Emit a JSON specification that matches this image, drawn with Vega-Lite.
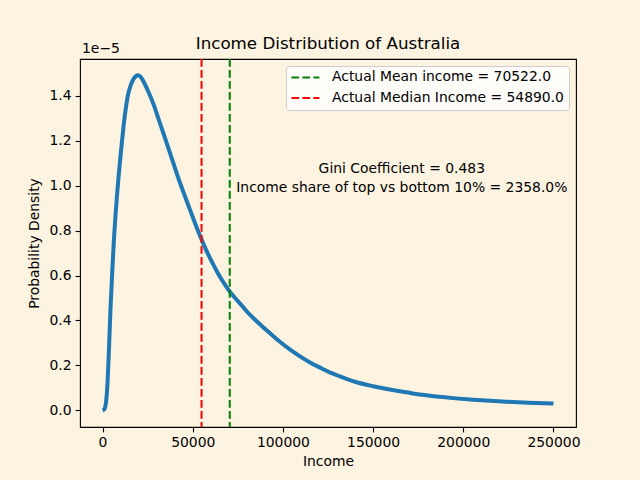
{
  "$schema": "https://vega.github.io/schema/vega-lite/v6.json",
  "width": 496,
  "height": 368,
  "autosize": {"type": "none"},
  "padding": {"left": 80, "top": 59, "right": 64, "bottom": 53},
  "background": "#fdf3e1",
  "title": {
    "text": "Income Distribution of Australia",
    "fontSize": 16.7,
    "fontWeight": "normal",
    "color": "#000000",
    "font": "DejaVu Sans",
    "anchor": "middle",
    "frame": "group",
    "baseline": "alphabetic",
    "offset": 9,
    "dy": 32
  },
  "datasets": {
    "curve": [
      {"income": 0, "density": 0},
      {"income": 1000, "density": 0.005},
      {"income": 1500, "density": 0.015},
      {"income": 2000, "density": 0.04},
      {"income": 2600, "density": 0.10},
      {"income": 3500, "density": 0.26},
      {"income": 4400, "density": 0.45},
      {"income": 5400, "density": 0.62},
      {"income": 6300, "density": 0.76},
      {"income": 7200, "density": 0.87},
      {"income": 8100, "density": 0.965},
      {"income": 9000, "density": 1.05},
      {"income": 10000, "density": 1.135},
      {"income": 11000, "density": 1.215},
      {"income": 12000, "density": 1.29},
      {"income": 13000, "density": 1.35},
      {"income": 14000, "density": 1.40},
      {"income": 15500, "density": 1.445},
      {"income": 17000, "density": 1.473},
      {"income": 18500, "density": 1.488},
      {"income": 19700, "density": 1.492},
      {"income": 21000, "density": 1.486},
      {"income": 23000, "density": 1.46},
      {"income": 25600, "density": 1.415},
      {"income": 28400, "density": 1.36},
      {"income": 31100, "density": 1.296},
      {"income": 34000, "density": 1.228},
      {"income": 36700, "density": 1.163},
      {"income": 39500, "density": 1.095},
      {"income": 42200, "density": 1.03},
      {"income": 45000, "density": 0.968},
      {"income": 47700, "density": 0.91},
      {"income": 50500, "density": 0.85},
      {"income": 53300, "density": 0.792},
      {"income": 56000, "density": 0.74},
      {"income": 58500, "density": 0.695},
      {"income": 61000, "density": 0.655},
      {"income": 63500, "density": 0.617},
      {"income": 66200, "density": 0.58},
      {"income": 68500, "density": 0.552},
      {"income": 70800, "density": 0.526},
      {"income": 73500, "density": 0.50},
      {"income": 76300, "density": 0.475},
      {"income": 80000, "density": 0.44},
      {"income": 83700, "density": 0.41},
      {"income": 87400, "density": 0.382},
      {"income": 93000, "density": 0.342},
      {"income": 98500, "density": 0.304},
      {"income": 104000, "density": 0.27},
      {"income": 109500, "density": 0.24},
      {"income": 115000, "density": 0.213},
      {"income": 120600, "density": 0.19},
      {"income": 126000, "density": 0.169},
      {"income": 131600, "density": 0.151},
      {"income": 140000, "density": 0.127},
      {"income": 150000, "density": 0.107},
      {"income": 160000, "density": 0.091},
      {"income": 168500, "density": 0.080},
      {"income": 177000, "density": 0.069},
      {"income": 187000, "density": 0.060},
      {"income": 196000, "density": 0.053},
      {"income": 205400, "density": 0.047},
      {"income": 215000, "density": 0.042},
      {"income": 223800, "density": 0.038},
      {"income": 236000, "density": 0.034},
      {"income": 250000, "density": 0.030}
    ],
    "lines": [
      {"label": "Actual Mean income = 70522.0", "value": 70522},
      {"label": "Actual Median Income = 54890.0", "value": 54890}
    ],
    "notes": [
      {"note": ["Gini Coefficient = 0.483", "Income share of top vs bottom 10% = 2358.0%"]}
    ]
  },
  "layer": [
    {
      "data": {"name": "curve"},
      "mark": {"type": "line", "color": "#1f77b4", "strokeWidth": 4, "strokeCap": "butt", "interpolate": "monotone"},
      "encoding": {
        "x": {
          "field": "income",
          "type": "quantitative",
          "scale": {"domain": [-12500, 262500], "nice": false, "zero": false},
          "axis": {"title": "Income", "values": [0, 50000, 100000, 150000, 200000, 250000], "format": "d"}
        },
        "y": {
          "field": "density",
          "type": "quantitative",
          "scale": {"domain": [-0.0745, 1.5645], "nice": false, "zero": false},
          "axis": {"title": "Probability Density", "values": [0, 0.2, 0.4, 0.6, 0.8, 1.0, 1.2, 1.4], "format": ".1f"}
        }
      }
    },
    {
      "data": {"name": "lines"},
      "mark": {"type": "rule", "strokeWidth": 2, "strokeDash": [7.7, 3.3]},
      "encoding": {
        "x": {"field": "value", "type": "quantitative"},
        "color": {
          "field": "label",
          "type": "nominal",
          "scale": {
            "domain": ["Actual Mean income = 70522.0", "Actual Median Income = 54890.0"],
            "range": ["#008000", "#ff0000"]
          },
          "legend": {"title": null}
        }
      }
    },
    {
      "data": {"name": "notes"},
      "mark": {"type": "text", "align": "center", "baseline": "middle", "fontSize": 13.9, "lineHeight": 19, "color": "#000000", "font": "DejaVu Sans"},
      "encoding": {
        "x": {"datum": 165930, "type": "quantitative"},
        "y": {"datum": 1.076, "type": "quantitative"},
        "text": {"field": "note"}
      }
    },
    {
      "data": {"values": [{"offset": "1e−5"}]},
      "mark": {"type": "text", "align": "left", "baseline": "alphabetic", "fontSize": 13.9, "color": "#000000", "font": "DejaVu Sans", "dx": 2, "dy": -5.7},
      "encoding": {
        "x": {"datum": -12500, "type": "quantitative"},
        "y": {"datum": 1.5645, "type": "quantitative"},
        "text": {"field": "offset"}
      }
    }
  ],
  "config": {
    "font": "DejaVu Sans",
    "view": {"stroke": "#000000", "strokeWidth": 1.1},
    "axis": {
      "grid": false,
      "domain": false,
      "ticks": true,
      "tickColor": "#000000",
      "tickSize": 4.9,
      "tickWidth": 1.1,
      "labelFontSize": 13.9,
      "labelColor": "#000000",
      "labelPadding": 4,
      "titleFontSize": 13.9,
      "titleFontWeight": "normal",
      "titleColor": "#000000",
      "labelFont": "DejaVu Sans",
      "titleFont": "DejaVu Sans"
    },
    "axisX": {"titlePadding": 5},
    "axisY": {"titlePadding": 8, "labelPadding": 4},
    "legend": {
      "orient": "top-right",
      "offset": 7,
      "fillColor": "rgba(255,255,255,0.8)",
      "strokeColor": "#cccccc",
      "cornerRadius": 3,
      "padding": 4.4,
      "labelFontSize": 13.9,
      "labelColor": "#000000",
      "labelFont": "DejaVu Sans",
      "labelOffset": 11.6,
      "symbolType": "stroke",
      "symbolSize": 784,
      "symbolStrokeWidth": 2,
      "symbolDash": [7.7, 3.3],
      "clipHeight": 14,
      "rowPadding": 6.7,
      "labelLimit": 400
    }
  }
}
